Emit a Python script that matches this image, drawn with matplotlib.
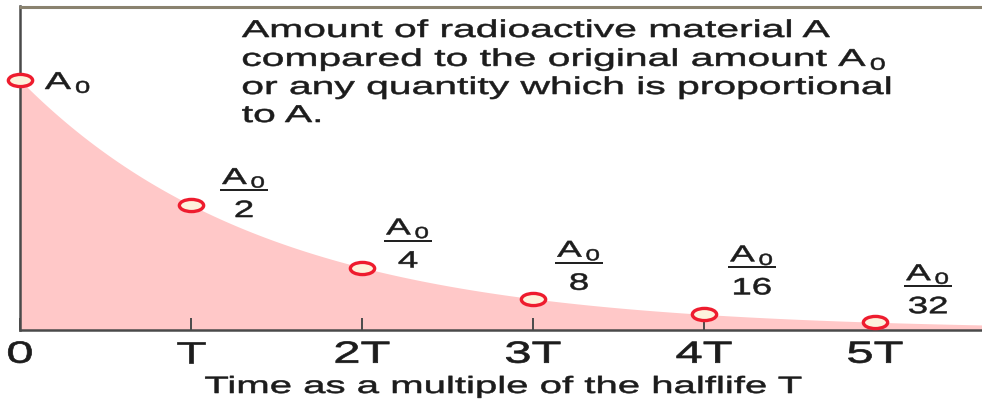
import numpy as np
import matplotlib
matplotlib.use("Agg")
import matplotlib.pyplot as plt
from matplotlib.patheffects import AbstractPathEffect
from matplotlib.transforms import Affine2D, offset_copy
from matplotlib.path import Path
from matplotlib.lines import Line2D

# ---- data -------------------------------------------------------------
half_lives = [0, 1, 2, 3, 4, 5]                 # time in units of T
fractions = [1, 1/2, 1/4, 1/8, 1/16, 1/32]      # A / A0
denominators = ["2", "4", "8", "16", "32"]
tick_labels = ["0", "T", "2T", "3T", "4T", "5T"]
x_max = 5.643                                   # right end of the time axis
y_max = 1.296

description = [
    "Amount of radioactive material A",
    "compared to the original amount A$_{\\,0}$",
    "or any quantity which is proportional",
    "to A.",
]
x_title = "Time as a multiple of the halflife T"

# ---- style ------------------------------------------------------------
plt.rcParams["font.family"] = ["Liberation Sans", "DejaVu Sans"]
plt.rcParams["mathtext.fontset"] = "custom"
plt.rcParams["mathtext.rm"] = "Liberation Sans"
plt.rcParams["mathtext.it"] = "Liberation Sans"
plt.rcParams["mathtext.default"] = "regular"

TEXT = "#1c1c1c"
FILL = "#ffc8c8"
RING = "#ee1c2e"
AXIS = "#4a4a4a"
FRAME = "#8a826f"


class Widen(AbstractPathEffect):
    """Draw glyphs stretched horizontally about an anchor, with a light outline."""

    def __init__(self, factor, anchor="center", stroke=0.4):
        super().__init__((0, 0))
        self.factor = factor
        self.anchor = anchor
        self.stroke = stroke

    def draw_path(self, renderer, gc, tpath, affine, rgbFace=None):
        ext = tpath.get_extents(affine)
        x0 = {"left": ext.x0, "center": 0.5 * (ext.x0 + ext.x1),
              "right": ext.x1}[self.anchor]
        widen = Affine2D().translate(-x0, 0).scale(self.factor, 1).translate(x0, 0)
        gc0 = renderer.new_gc()
        gc0.copy_properties(gc)
        if rgbFace is not None:
            gc0.set_foreground(rgbFace)
        gc0.set_linewidth(self.stroke)
        gc0.set_joinstyle("round")
        renderer.draw_path(gc0, tpath, affine + widen, rgbFace)
        gc0.restore()


fig = plt.figure(figsize=(9.82, 4.0), dpi=100)
W, H = 982, 400
ax = fig.add_axes([20 / W, 70 / H, 965 / W, 324 / H])
ax.set_xlim(0, x_max)
ax.set_ylim(0, y_max)

# decay curve A(t) = A0 * (1/2)^(t/T)
t = np.linspace(0, x_max, 600)
amount = fractions[0] * 0.5 ** t
ax.fill_between(t, 0, amount, color=FILL, lw=0, zorder=1)

# open elliptical markers at whole half-lives
ring = Path.unit_circle().transformed(Affine2D().scale(1.0, 0.5))
ax.plot(half_lives, fractions, ls="none", marker=ring, ms=17.5,
        mfc="#fdf2dc", mec=RING, mew=2.4, zorder=4, clip_on=False)

# frame: dark axis lines on the left and bottom, a lighter rule along the top
for side in ("left", "bottom"):
    ax.spines[side].set_color(AXIS)
    ax.spines[side].set_linewidth(1.8)
for side in ("top", "right"):
    ax.spines[side].set_visible(False)
fig.add_artist(Line2D([19 / W, 1.0], [1 - 6.5 / H, 1 - 6.5 / H],
                      transform=fig.transFigure, color=FRAME, lw=2.2,
                      solid_capstyle="butt"))

ax.set_yticks([])
ax.set_xticks(half_lives)
ax.set_xticklabels(tick_labels)
ax.tick_params(axis="x", direction="in", length=8.5, width=1.4, color=AXIS,
               pad=7, labelsize=22, labelcolor=TEXT)
for lab in ax.get_xticklabels():
    lab.set_path_effects([Widen(1.6, "center", 0.5)])

# A0 label at the starting point
lab0 = ax.text(0, fractions[0], "A$_{\\,0}$", fontsize=17.5, color=TEXT,
               ha="left", va="baseline",
               transform=offset_copy(ax.transData, fig, x=25, y=-9, units="dots"))
lab0.set_path_effects([Widen(1.6, "left")])

# A0 / 2^n fraction labels next to each marker
frac_offsets = [(53, 15), (46, 27), (46, 36), (48, 47), (53, 36)]
for k, (den, (dx, dy)) in enumerate(zip(denominators, frac_offsets), start=1):
    xk, yk = half_lives[k], fractions[k]
    num = ax.text(xk, yk, "A$_{\\,0}$", fontsize=16.5, color=TEXT,
                  ha="center", va="baseline",
                  transform=offset_copy(ax.transData, fig, x=dx, y=dy + 6, units="dots"))
    num.set_path_effects([Widen(1.6, "center")])
    ax.plot(xk, yk, marker="_", ms=34, mew=1.4, color=TEXT, zorder=5,
            transform=offset_copy(ax.transData, fig, x=dx, y=dy, units="dots"),
            clip_on=False)
    d = ax.text(xk, yk, den, fontsize=17, color=TEXT, ha="center", va="baseline",
                transform=offset_copy(ax.transData, fig, x=dx, y=dy - 27, units="dots"))
    d.set_path_effects([Widen(1.55, "center")])

# description block
baselines = [37, 66, 94, 122]
for line, yb in zip(description, baselines):
    txt = fig.text(242 / W, 1 - yb / H, line, fontsize=17.5, color=TEXT,
                   ha="left", va="baseline")
    txt.set_path_effects([Widen(1.68, "left")])

# axis title
xt = fig.text(504 / W, 1 - 393 / H, x_title, fontsize=17, color=TEXT,
              ha="center", va="baseline")
xt.set_path_effects([Widen(1.7, "center")])

fig.savefig("out.png", dpi=100, facecolor="white")
